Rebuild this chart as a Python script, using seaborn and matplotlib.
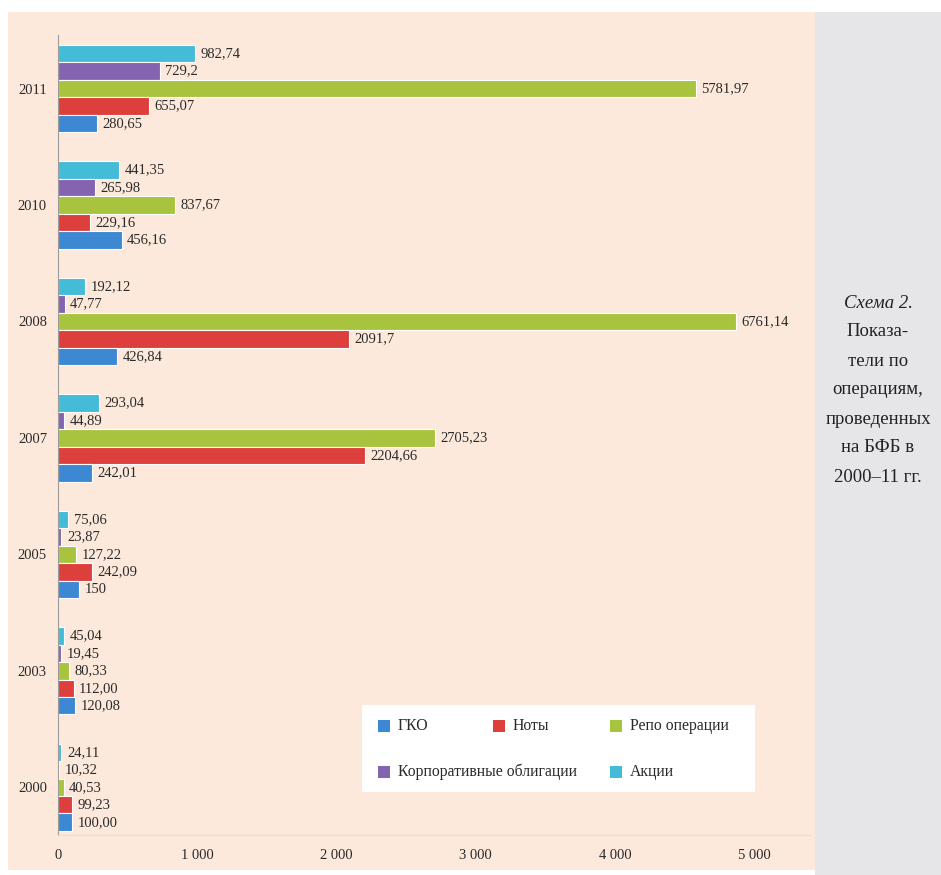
import matplotlib
matplotlib.use("Agg")
import pandas as pd
import seaborn as sns
import matplotlib.pyplot as plt
from matplotlib.patches import Rectangle

# Data (values as printed on the chart)
years = ["2011", "2010", "2008", "2007", "2005", "2003", "2000"]
series = ["Акции", "Корпоративные облигации", "Репо операции", "Ноты", "ГКО"]
colors = ["#45bcd7", "#8463b0", "#a8c43f", "#dd3f3c", "#3d88d2"]

akcii = ["982,74", "441,35", "192,12", "293,04", "75,06", "45,04", "24,11"]
korp = ["729,2", "265,98", "47,77", "44,89", "23,87", "19,45", "10,32"]
repo = ["5781,97", "837,67", "6761,14", "2705,23", "127,22", "80,33", "40,53"]
noty = ["655,07", "229,16", "2091,7", "2204,66", "242,09", "112,00", "99,23"]
gko = ["280,65", "456,16", "426,84", "242,01", "150", "120,08", "100,00"]

# in the source the two largest repo bars are drawn shorter than their value
repo_drawn = {"2011": 4580, "2008": 4870}

xticks = [0, 1000, 2000, 3000, 4000, 5000]
xtick_labels = ["0", "1 000", "2 000", "3 000", "4 000", "5 000"]

legend_rows = [["ГКО", "Ноты", "Репо операции"],
               ["Корпоративные облигации", None, "Акции"]]

caption = ["Схема 2.", "Показа-", "тели по", "операциям,",
           "проведенных", "на БФБ в", "2000–11 гг."]

# long table
rows = []
for name, labs in zip(series, [akcii, korp, repo, noty, gko]):
    for yr, s in zip(years, labs):
        v = float(s.replace(",", "."))
        bar = repo_drawn.get(yr, v) if name == "Репо операции" else v
        rows.append({"year": yr, "series": name, "value": v, "bar": bar, "label": s})
df = pd.DataFrame(rows)
label_of = {(r.series, r.year): r.label for r in df.itertuples()}

sns.set_style("white")
plt.rcParams["font.family"] = ["Liberation Serif", "DejaVu Serif"]

W, H = 941, 875
fig = plt.figure(figsize=(W / 100, H / 100), dpi=100)
fig.patch.set_facecolor("white")

# background panels
fig.patches.append(Rectangle((8 / W, 5 / H), (815 - 8) / W, (875 - 12 - 5) / H,
                             transform=fig.transFigure, facecolor="#fce9db",
                             edgecolor="none", zorder=-2))
fig.patches.append(Rectangle((815 / W, 0), (W - 815) / W, (875 - 12) / H,
                             transform=fig.transFigure, facecolor="#e6e6e8",
                             edgecolor="none", zorder=-2))

ax = fig.add_axes([58 / W, 1 - 835 / H, (810 - 58) / W, 800 / H])
ax.set_facecolor("none")

sns.barplot(
    data=df, x="bar", y="year", hue="series",
    order=years, hue_order=series,
    palette=dict(zip(series, colors)), saturation=1,
    orient="h", width=0.75, errorbar=None,
    edgecolor="white", linewidth=0.8,
    legend=False, ax=ax,
)

# value labels
for name, cont in zip(series, ax.containers):
    labs = []
    for b in cont:
        idx = int(round(b.get_y() + b.get_height() / 2))
        labs.append(label_of[(name, years[idx])])
    ax.bar_label(cont, labels=labs, padding=4, fontsize=10.5, color="#2a2a2a")

ax.set_xlim(0, 5400)
ax.set_ylim(6.41, -0.46)
ax.set_xticks(xticks)
ax.set_xticklabels(xtick_labels)
ax.set_xlabel("")
ax.set_ylabel("")
ax.tick_params(axis="x", length=0, pad=10, labelsize=10.5, labelcolor="#2a2a2a")
ax.tick_params(axis="y", length=0, pad=8, labelsize=10.5, labelcolor="#2a2a2a")
for side in ["top", "right"]:
    ax.spines[side].set_visible(False)
ax.spines["left"].set_color("#9c9c9c")
ax.spines["left"].set_linewidth(0.8)
ax.spines["bottom"].set_color("#eddccf")
ax.spines["bottom"].set_linewidth(0.8)

# legend box drawn by hand (layout of the source legend)
color_of = dict(zip(series, colors))
fig.patches.append(Rectangle((362 / W, 1 - 792 / H), (755 - 362) / W, (792 - 705) / H,
                             transform=fig.transFigure, facecolor="white",
                             edgecolor="none", zorder=3))
col_x = [378, 493, 610]
row_y = [726, 772]
for ry, row in zip(row_y, legend_rows):
    for cx, name in zip(col_x, row):
        if name is None:
            continue
        fig.patches.append(Rectangle((cx / W, 1 - (ry + 6) / H), 12 / W, 12 / H,
                                     transform=fig.transFigure,
                                     facecolor=color_of[name], edgecolor="none",
                                     zorder=4))
        fig.text((cx + 20) / W, 1 - ry / H, name, fontsize=11.3, color="#2a2a2a",
                 va="center", ha="left", zorder=5)

# caption on the right panel
for i, line in enumerate(caption):
    fig.text(878 / W, 1 - (303 + i * 29) / H, line, fontsize=13.5,
             color="#222222", ha="center", va="center",
             style="italic" if i == 0 else "normal")

fig.savefig("out.png", dpi=100, facecolor=fig.get_facecolor())
